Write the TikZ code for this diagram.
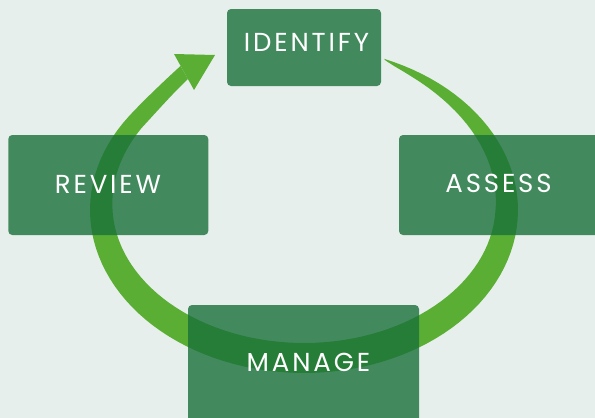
\documentclass[tikz,border=0pt]{standalone}
\usepackage{fontspec}
\setmainfont{Poppins}
\newfontfamily\lblfont[LetterSpace=11]{Poppins}
\definecolor{bgc}{RGB}{230,239,236}
\definecolor{arcc}{RGB}{90,174,52}
\definecolor{boxc}{RGB}{26,113,58}
\begin{document}
\begin{tikzpicture}[x=1pt,y=-1pt,
  declare function={
    wd(\t) = (\t<0) ? 22.5*(((\t+68)/68)^0.6) : ((\t<=180) ? 22.5+7.5*sin(\t) : 22.5-0.15*(\t-180));
    nl(\t) = sqrt((1.63*cos(\t))^2 + (2.14*sin(\t))^2);
  },
  stagebox/.style={fill=boxc, fill opacity=0.8, rounded corners=4pt, inner sep=0pt, draw=none},
  lbl/.style={text=white, inner sep=0pt, font=\lblfont\fontsize{26}{30}\selectfont}]
\useasboundingbox (0,0) rectangle (595,418);
\fill[bgc] (0,0) rectangle (595,418);
% cycle arrow band
\fill[arcc] plot[domain=-68:215, samples=100, variable=\t] ({304+214*cos(\t)}, {210+163*sin(\t)})
  .. controls (142.2,101.8) and (164,81) .. (180.5,66) -- (188,79)
  .. controls (174,92) and (155,113.5) .. (141.4,128.2)
  -- plot[domain=215:-67.5, samples=100, variable=\t]
     ({304+214*cos(\t) - wd(\t)*1.63*cos(\t)/nl(\t)}, {210+163*sin(\t) - wd(\t)*2.14*sin(\t)/nl(\t)})
  -- cycle;
\fill[arcc] (174,54) -- (215,55) -- (194,90) -- cycle;
% boxes
\begin{scope}
\clip (0,0) rectangle (595,418);
\node[stagebox, minimum width=154pt, minimum height=77pt] (idbox) at (304,47.5) {};
\node[stagebox, minimum width=200pt, minimum height=100pt] (rvbox) at (108.3,185) {};
\node[stagebox, minimum width=200pt, minimum height=100pt] (asbox) at (499,185) {};
\node[stagebox, minimum width=231pt, minimum height=130pt] (mgbox) at (303.5,370) {};
\end{scope}
% labels
\node[lbl] (idt) at (306.5,42.5) {IDENTIFY};
\node[lbl] (rvt) at (108,184) {REVIEW};
\node[lbl] (ast) at (498.5,183) {ASSESS};
\node[lbl] (mgt) at (308.5,362.5) {MANAGE};
\end{tikzpicture}
\end{document}
